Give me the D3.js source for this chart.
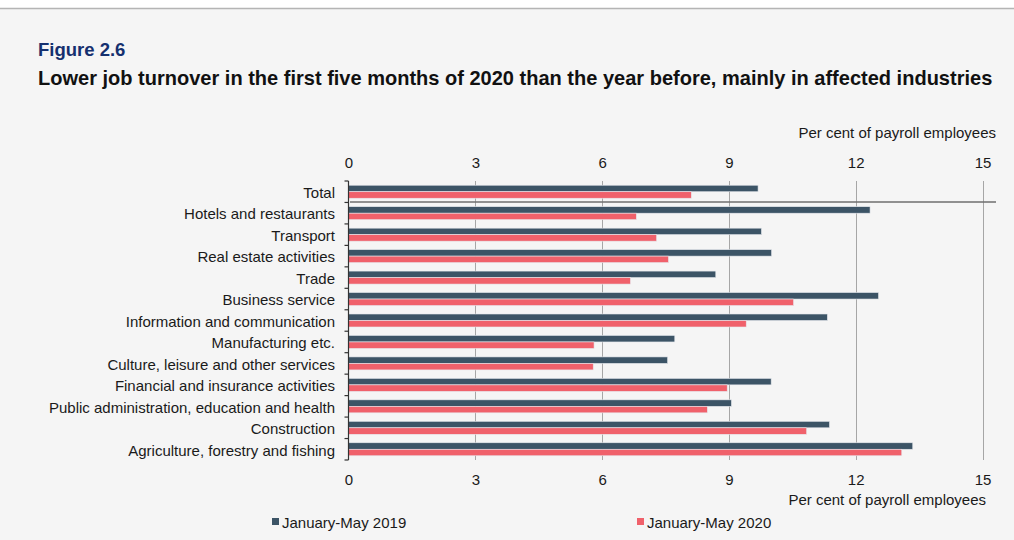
<!DOCTYPE html>
<html>
<head>
<meta charset="utf-8">
<script src="https://cdn.jsdelivr.net/npm/d3@7"></script>
<style>
  html, body { margin: 0; padding: 0; background: #ffffff; }
  svg { display: block; font-family: "Liberation Sans", Arial, sans-serif; }
</style>
</head>
<body>
<svg id="chart" width="1014" height="540"></svg>
<script>
// Job turnover by industry, per cent of payroll employees
const categories = [
  "Total",
  "Hotels and restaurants",
  "Transport",
  "Real estate activities",
  "Trade",
  "Business service",
  "Information and communication",
  "Manufacturing etc.",
  "Culture, leisure and other services",
  "Financial and insurance activities",
  "Public administration, education and health",
  "Construction",
  "Agriculture, forestry and fishing"
];
const values2019 = [9.69, 12.34, 9.77, 10.01, 8.69, 12.54, 11.33, 7.72, 7.55, 10.0, 9.06, 11.38, 13.35];
const values2020 = [8.11, 6.81, 7.29, 7.57, 6.67, 10.53, 9.41, 5.81, 5.79, 8.96, 8.49, 10.84, 13.09];
const seriesNames = ["January-May 2019", "January-May 2020"];
const seriesColors = ["#3c5466", "#f0616b"];
const tickValues = [0, 3, 6, 9, 12, 15];
const axisUnit = "Per cent of payroll employees";

const fs = 15;
const svg = d3.select("#chart");

// page background with a thin rule at the top
svg.append("rect").attr("x", 0).attr("y", 0).attr("width", 1014).attr("height", 540).attr("fill", "#ffffff");
svg.append("rect").attr("x", 0).attr("y", 9).attr("width", 1014).attr("height", 531).attr("fill", "#f5f5f5");
svg.append("line").attr("x1", 0).attr("x2", 1014).attr("y1", 8.5).attr("y2", 8.5)
  .attr("stroke", "#b4b4b4").attr("stroke-width", 1.5);

// headings
svg.append("text").attr("x", 38).attr("y", 56)
  .attr("font-size", 18.5).attr("font-weight", "bold").attr("fill", "#15306f")
  .text("Figure 2.6");
const subtitle = svg.append("text").attr("x", 38).attr("y", 85)
  .attr("font-size", 17).attr("font-weight", "bold").attr("fill", "#111111")
  .text("Lower job turnover in the first five months of 2020 than the year before, mainly in affected industries");
// fit the subtitle to the page width
const subW = subtitle.node().getComputedTextLength();
subtitle.attr("font-size", 17 * 955 / subW);

// plot area
const x0 = 348.5, x1 = 982.5, yTop = 181, yBottom = 460;
const x = d3.scaleLinear().domain([0, 15]).range([x0, x1]);
const y = d3.scaleBand().domain(categories).range([yTop, yBottom]).paddingInner(0).paddingOuter(0);
const barH = 6.5;
const sub = d3.scaleBand().domain(seriesNames).range([0, barH * 2]);

// vertical gridlines
svg.append("g").selectAll("line")
  .data(tickValues.filter(d => d > 0))
  .join("line")
  .attr("x1", d => Math.round(x(d)) + 0.5).attr("x2", d => Math.round(x(d)) + 0.5)
  .attr("y1", yTop).attr("y2", yBottom)
  .attr("stroke", "#a6a6a6").attr("stroke-width", 1);

// top and bottom value axes (labels only)
const topAxis = d3.axisTop(x).tickValues(tickValues).tickSize(0).tickPadding(0);
const gTop = svg.append("g").attr("transform", `translate(0,${yTop - 13})`).call(topAxis);
const botAxis = d3.axisBottom(x).tickValues(tickValues).tickSize(0).tickPadding(0);
const gBot = svg.append("g").attr("transform", `translate(0,${yBottom + 14})`).call(botAxis);
[gTop, gBot].forEach(g => {
  g.select(".domain").remove();
  g.selectAll("text").attr("font-size", fs).attr("fill", "#1a1a1a")
    .attr("font-family", "Liberation Sans, Arial, sans-serif");
});

// unit labels
svg.append("text").attr("x", 996).attr("y", 138).attr("text-anchor", "end")
  .attr("font-size", fs).attr("fill", "#1a1a1a").text(axisUnit);
svg.append("text").attr("x", 986).attr("y", 505).attr("text-anchor", "end")
  .attr("font-size", fs).attr("fill", "#1a1a1a").text(axisUnit);

// bars
const rows = categories.map((c, i) => ({ cat: c, vals: [values2019[i], values2020[i]] }));
const groupOffset = (y.bandwidth() - barH * 2) / 2;
const gRows = svg.append("g").selectAll("g")
  .data(rows)
  .join("g")
  .attr("transform", d => `translate(0,${y(d.cat) + groupOffset})`);
gRows.selectAll("rect")
  .data(d => d.vals.map((v, j) => ({ v, s: seriesNames[j], c: seriesColors[j] })))
  .join("rect")
  .attr("x", x(0))
  .attr("y", d => sub(d.s))
  .attr("width", d => x(d.v) - x(0))
  .attr("height", sub.bandwidth())
  .attr("fill", d => d.c)
  .attr("stroke", "#e6e9ee").attr("stroke-width", 0.6);

// separator under the total row
svg.append("line")
  .attr("x1", 350).attr("x2", 996)
  .attr("y1", y(categories[1]) - 0.5).attr("y2", y(categories[1]) - 0.5)
  .attr("stroke", "#6e6e6e").attr("stroke-width", 1.5);

// category axis on the left with ticks at band edges
const gLeft = svg.append("g");
gLeft.append("line").attr("x1", x0).attr("x2", x0).attr("y1", yTop).attr("y2", yBottom)
  .attr("stroke", "#333333").attr("stroke-width", 1.2);
const edges = categories.map(c => y(c)).concat([yBottom]);
gLeft.selectAll("line.edge").data(edges).join("line").attr("class", "edge")
  .attr("x1", x0 - 4).attr("x2", x0).attr("y1", d => d).attr("y2", d => d)
  .attr("stroke", "#333333").attr("stroke-width", 1.2);
gLeft.selectAll("text").data(categories).join("text")
  .attr("x", 335).attr("y", d => y(d) + y.bandwidth() / 2 + 1)
  .attr("dy", "0.35em").attr("text-anchor", "end")
  .attr("font-size", fs).attr("fill", "#1a1a1a")
  .text(d => d);

// legend
const legendX = [272, 637];
const legend = svg.append("g").selectAll("g").data(seriesNames).join("g")
  .attr("transform", (d, i) => `translate(${legendX[i]},0)`);
legend.append("rect").attr("x", 0).attr("y", 518).attr("width", 7).attr("height", 7)
  .attr("fill", (d, i) => seriesColors[i]);
legend.append("text").attr("x", 10).attr("y", 528)
  .attr("font-size", fs).attr("fill", "#1a1a1a").text(d => d);
</script>
</body>
</html>
